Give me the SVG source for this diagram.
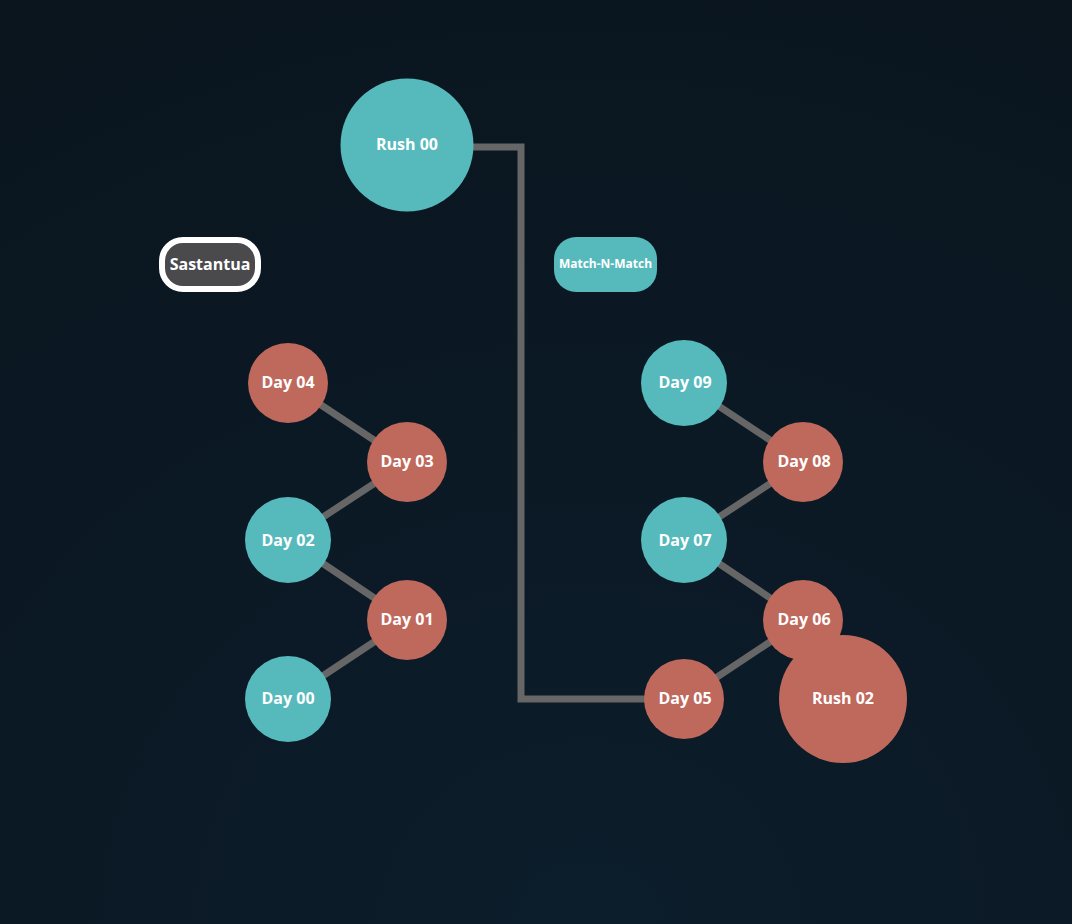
<svg xmlns="http://www.w3.org/2000/svg" width="1072" height="924" viewBox="0 0 1072 924">
<defs>
<radialGradient id="bg" cx="0.55" cy="1" r="1.1">
<stop offset="0" stop-color="#0c1d2b"/>
<stop offset="1" stop-color="#0a151e"/>
</radialGradient>
<style>
.teal{fill:#56b9bc}
.red{fill:#bf685c}
.lbl{font-family:"Open Sans","Noto Sans",sans-serif;font-weight:bold;font-size:16px;fill:#fff;text-anchor:middle;dominant-baseline:central}
.edge{stroke:#666;stroke-width:7;fill:none}
</style>
</defs>
<rect width="1072" height="924" fill="url(#bg)"/>
<g id="connectors">
<polyline class="edge" points="470,147 521,147 521,699 650,699"/>
<line class="edge" x1="288" y1="383" x2="407" y2="462"/>
<line class="edge" x1="407" y1="462" x2="288" y2="540"/>
<line class="edge" x1="288" y1="540" x2="407" y2="620"/>
<line class="edge" x1="407" y1="620" x2="288" y2="699"/>
<line class="edge" x1="684" y1="383" x2="803" y2="462"/>
<line class="edge" x1="803" y1="462" x2="684" y2="540"/>
<line class="edge" x1="684" y1="540" x2="803" y2="620"/>
<line class="edge" x1="803" y1="620" x2="684" y2="699"/>
</g>
<g id="rush00"><circle class="teal" cx="407" cy="145" r="66.5"/><text class="lbl" x="407" y="144">Rush 00</text></g>
<g id="sastantua"><rect x="162" y="240" width="96" height="49" rx="21" fill="#4a4a4c" stroke="#fff" stroke-width="6"/><text class="lbl" x="210" y="263.5">Sastantua</text></g>
<g id="matchnmatch"><rect class="teal" x="554" y="237" width="103" height="55" rx="22"/><text class="lbl" x="605.5" y="263.5" style="font-size:12px">Match-N-Match</text></g>
<g id="day04"><circle class="red" cx="288" cy="383" r="40"/><text class="lbl" x="288" y="382">Day 04</text></g>
<g id="day03"><circle class="red" cx="407" cy="462" r="40"/><text class="lbl" x="407" y="461">Day 03</text></g>
<g id="day02"><circle class="teal" cx="288" cy="540" r="43"/><text class="lbl" x="288" y="540">Day 02</text></g>
<g id="day01"><circle class="red" cx="407" cy="620" r="40"/><text class="lbl" x="407" y="619">Day 01</text></g>
<g id="day00"><circle class="teal" cx="288" cy="699" r="43"/><text class="lbl" x="288" y="698">Day 00</text></g>
<g id="day09"><circle class="teal" cx="684" cy="383" r="43"/><text class="lbl" x="685" y="382">Day 09</text></g>
<g id="day08"><circle class="red" cx="803" cy="462" r="40"/><text class="lbl" x="804" y="461">Day 08</text></g>
<g id="day07"><circle class="teal" cx="684" cy="540" r="43"/><text class="lbl" x="685" y="540">Day 07</text></g>
<g id="day06"><circle class="red" cx="803" cy="620" r="40"/><text class="lbl" x="804" y="619">Day 06</text></g>
<g id="day05"><circle class="red" cx="684" cy="699" r="40"/><text class="lbl" x="685" y="698">Day 05</text></g>
<g id="rush02"><circle class="red" cx="843" cy="699" r="64"/><text class="lbl" x="843" y="698">Rush 02</text></g>
</svg>
